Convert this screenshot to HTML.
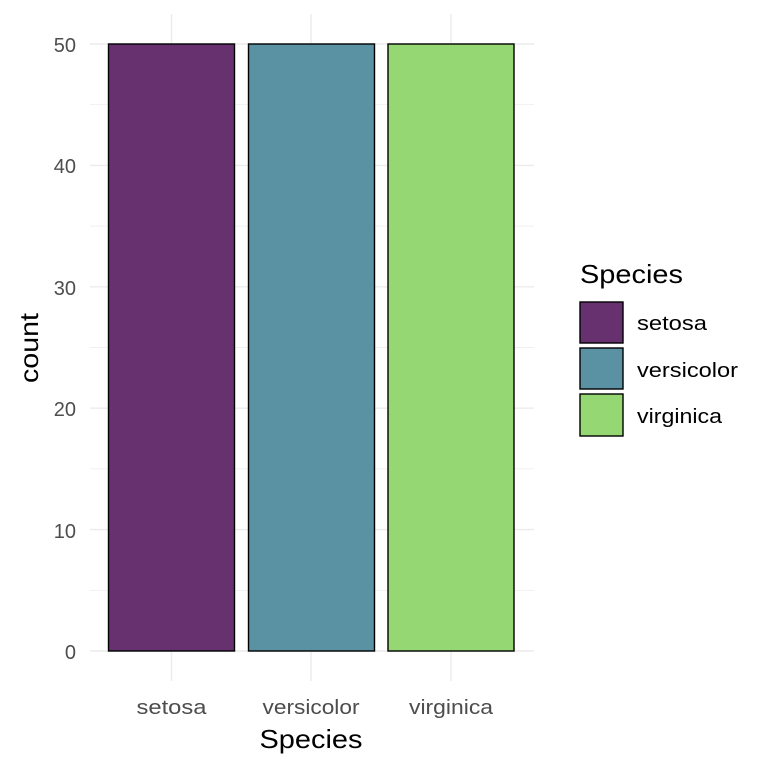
<!DOCTYPE html>
<html><head><meta charset="utf-8"><style>
body{margin:0;background:#fff}
svg text{font-family:"Liberation Sans",Arial,sans-serif}
</style></head><body>
<svg width="768" height="768" viewBox="0 0 768 768" xmlns="http://www.w3.org/2000/svg">
<rect width="768" height="768" fill="#fff"/>
<g stroke="#ebebeb" stroke-width="0.7">
<line x1="90" x2="534" y1="590.3" y2="590.3"/><line x1="90" x2="534" y1="468.9" y2="468.9"/>
<line x1="90" x2="534" y1="347.5" y2="347.5"/><line x1="90" x2="534" y1="226.1" y2="226.1"/>
<line x1="90" x2="534" y1="104.7" y2="104.7"/>
</g>
<g stroke="#ebebeb" stroke-width="1.4">
<line x1="90" x2="534" y1="651" y2="651"/><line x1="90" x2="534" y1="529.6" y2="529.6"/>
<line x1="90" x2="534" y1="408.2" y2="408.2"/><line x1="90" x2="534" y1="286.8" y2="286.8"/>
<line x1="90" x2="534" y1="165.4" y2="165.4"/><line x1="90" x2="534" y1="44" y2="44"/>
<line x1="171.5" x2="171.5" y1="14" y2="681"/><line x1="311" x2="311" y1="14" y2="681"/>
<line x1="451" x2="451" y1="14" y2="681"/>
</g>
<g stroke="#000" stroke-width="1.4">
<rect x="108.5" y="44" width="126" height="607" fill="#67306f"/>
<rect x="248.5" y="44" width="126" height="607" fill="#5a92a3"/>
<rect x="388" y="44" width="126" height="607" fill="#95d873"/>
</g>
<g fill="#4d4d4d" font-size="20" text-anchor="end">
<text x="76" y="659">0</text><text x="76" y="538">10</text><text x="76" y="416">20</text>
<text x="76" y="295">30</text><text x="76" y="173">40</text><text x="76" y="52">50</text>
</g>
<g fill="#4d4d4d" font-size="20" text-anchor="middle">
<text x="171.5" y="714" textLength="70" lengthAdjust="spacingAndGlyphs">setosa</text>
<text x="311" y="714" textLength="97" lengthAdjust="spacingAndGlyphs">versicolor</text>
<text x="451" y="714" textLength="84" lengthAdjust="spacingAndGlyphs">virginica</text>
</g>
<text x="311" y="748" font-size="26" text-anchor="middle" fill="#000" textLength="103" lengthAdjust="spacingAndGlyphs">Species</text>
<text transform="translate(38,348) rotate(-90)" font-size="26" text-anchor="middle" fill="#000" textLength="70" lengthAdjust="spacingAndGlyphs">count</text>
<text x="580" y="283" font-size="26" fill="#000" textLength="103" lengthAdjust="spacingAndGlyphs">Species</text>
<g stroke="#000" stroke-width="1.4">
<rect x="580" y="302" width="43" height="41" fill="#67306f"/>
<rect x="580" y="348" width="43" height="41" fill="#5a92a3"/>
<rect x="580" y="394" width="43" height="42" fill="#95d873"/>
</g>
<g font-size="20" fill="#000">
<text x="637" y="330" textLength="70" lengthAdjust="spacingAndGlyphs">setosa</text>
<text x="637" y="377" textLength="101" lengthAdjust="spacingAndGlyphs">versicolor</text>
<text x="637" y="423" textLength="85" lengthAdjust="spacingAndGlyphs">virginica</text>
</g>
</svg>
</body></html>
